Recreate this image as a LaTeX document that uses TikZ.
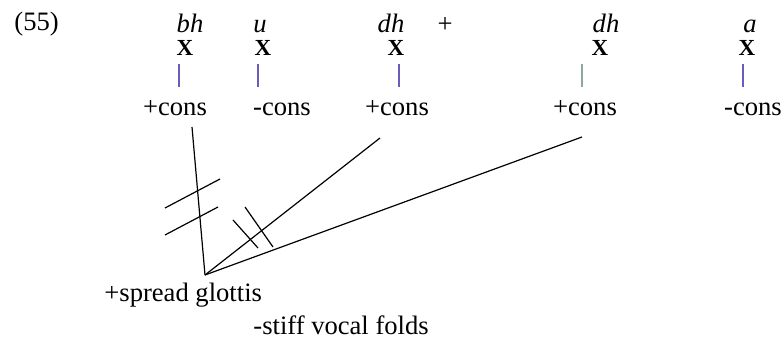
\documentclass[tikz,border=0pt]{standalone}
\usepackage{fontspec}
\setmainfont{Liberation Serif}
\usetikzlibrary{positioning}
\definecolor{tierpurple}{HTML}{6A5CB8}
\definecolor{tiergrey}{HTML}{8FA89F}

\begin{document}
\begin{tikzpicture}[x=0.5pt,y=-0.5pt,
  every node/.style={font=\fontsize{13.3}{16}\selectfont, inner sep=0pt},
  seg/.style={anchor=base, font=\fontsize{13.3}{16}\selectfont\itshape},
  slot/.style={anchor=base, font=\fontsize{11.5}{13}\selectfont\bfseries},
  feat/.style={anchor=base},
  assoc/.style={line width=0.6pt},
  tier/.style={line width=0.6pt}]
\useasboundingbox (0,0) rectangle (782,341);
\node[anchor=base west] (ex) at (14,31) {(55)};
% segments
\node[seg] (l1) at (190,33) {bh};
\node[seg] (l2) at (260,33) {u};
\node[seg] (l3) at (391,33) {dh};
\node[anchor=base] (plus) at (445,33) {+};
\node[seg] (l4) at (606,33) {dh};
\node[seg] (l5) at (750,33) {a};
% timing slots
\node[slot] (x1) at (185,56) {X};
\node[slot] (x2) at (263,56) {X};
\node[slot] (x3) at (396,56) {X};
\node[slot] (x4) at (600,56) {X};
\node[slot] (x5) at (747,56) {X};
% root features
\node[feat] (c1) at (175,116) {+cons};
\node[feat] (c2) at (282,116) {-cons};
\node[feat] (c3) at (397,116) {+cons};
\node[feat] (c4) at (585,116) {+cons};
\node[feat] (c5) at (753,116) {-cons};
\foreach \n/\dx/\col in {1/-6/tierpurple,2/-5/tierpurple,3/3/tierpurple,4/-18/tiergrey,5/-4/tierpurple}
  \draw[tier,\col] ([shift={(\dx,8)}]x\n.base) -- ++(0,23);
% laryngeal node
\node[anchor=base west] (sg) at (104,302) {+spread glottis};
\node[anchor=base west] (svf) at (253,335) {-stiff vocal folds};
\coordinate (apex) at (205,275);
\draw[assoc] ([shift={(17,11)}]c1.base) -- (apex);
\draw[assoc] ([shift={(-17,22)}]c3.base) -- (apex);
\draw[assoc] ([shift={(-3,21)}]c4.base) -- (apex);
% delinking marks
\draw[assoc] (165,208) -- (220,179);
\draw[assoc] (165,235) -- (218,207);
\draw[assoc] (233,220) -- (258,248);
\draw[assoc] (245,207) -- (273,247);
\end{tikzpicture}
\end{document}
